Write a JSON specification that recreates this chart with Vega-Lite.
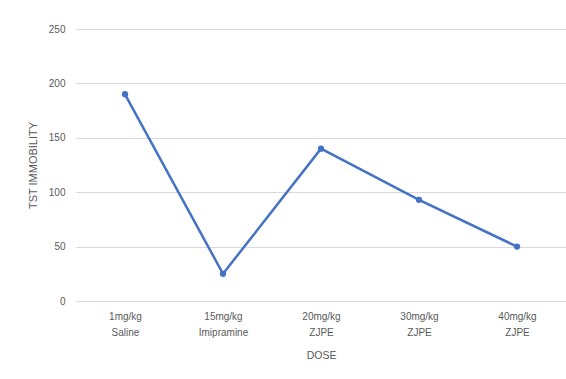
{
  "$schema": "https://vega.github.io/schema/vega-lite/v6.json",
  "autosize": "none",
  "width": 490,
  "height": 272,
  "padding": {"left": 76, "top": 29, "right": 0, "bottom": 78},
  "background": "white",
  "config": {
    "view": {"stroke": null},
    "axis": {"labelFont": "Liberation Sans", "titleFont": "Liberation Sans", "labelColor": "#595959", "titleColor": "#595959", "titleFontWeight": "normal"}
  },
  "data": {
    "values": [
      {"dose": "1mg/kg Saline", "immobility": 190},
      {"dose": "15mg/kg Imipramine", "immobility": 25},
      {"dose": "20mg/kg ZJPE", "immobility": 140},
      {"dose": "30mg/kg ZJPE", "immobility": 93},
      {"dose": "40mg/kg ZJPE", "immobility": 50}
    ]
  },
  "mark": {"type": "line", "color": "#4472C4", "strokeWidth": 2.5, "point": {"filled": true, "size": 40, "color": "#4472C4"}},
  "encoding": {
    "x": {
      "field": "dose", "type": "nominal", "sort": null,
      "scale": {"type": "point", "padding": 0.5},
      "axis": {"title": "DOSE", "titleFontSize": 10.5, "titlePadding": 13, "labelAngle": 0, "labelFontSize": 10, "labelPadding": 10, "labelLineHeight": 16, "labelExpr": "split(datum.label, ' ')", "domain": false, "ticks": false, "grid": false}
    },
    "y": {
      "field": "immobility", "type": "quantitative",
      "scale": {"domain": [0, 250]},
      "axis": {"title": "TST IMMOBILITY", "titleFontSize": 11, "titlePadding": 10, "values": [0, 50, 100, 150, 200, 250], "labelFontSize": 10, "labelPadding": 11, "domain": false, "ticks": false, "grid": true, "gridColor": "#d9d9d9", "gridWidth": 1}
    }
  }
}
